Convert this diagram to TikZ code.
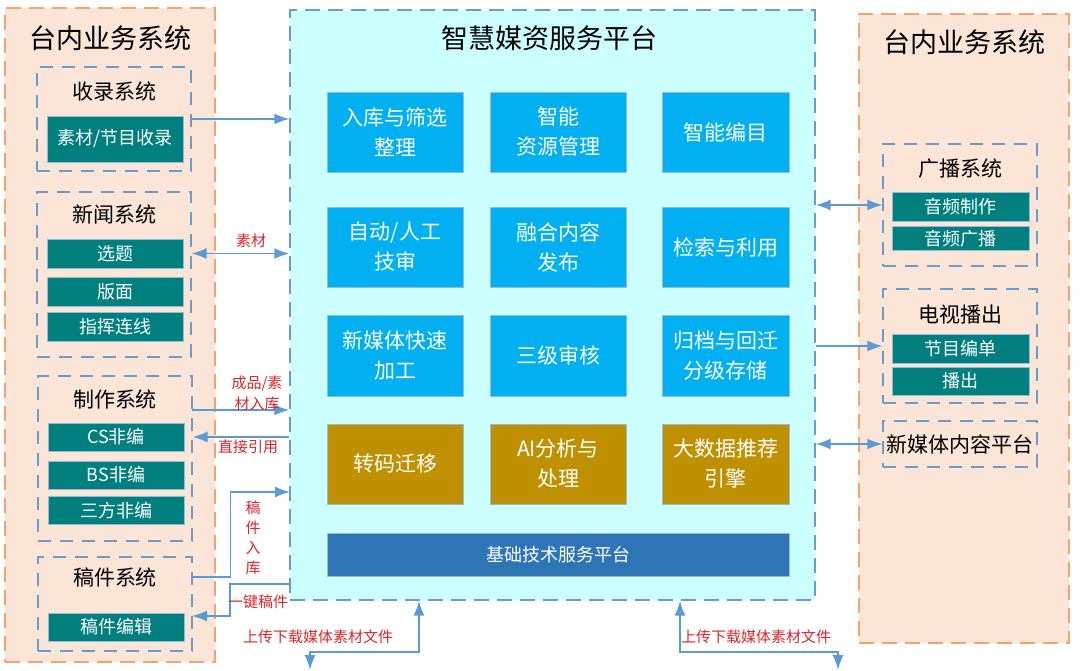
\documentclass[tikz,border=0pt]{standalone}
\usepackage{fontspec}
\setmainfont{Noto Sans CJK SC}
\usetikzlibrary{arrows,arrows.meta,shadows}

\definecolor{peach}{HTML}{FBE5D6}
\definecolor{peachline}{HTML}{F2A46E}
\definecolor{platfill}{HTML}{CCFFFF}
\definecolor{dashblue}{HTML}{6A9BCD}
\definecolor{tealbox}{HTML}{007F7F}
\definecolor{skybox}{HTML}{00B0F0}
\definecolor{goldbox}{HTML}{BF9000}
\definecolor{basebox}{HTML}{2E75B6}
\definecolor{linkblue}{HTML}{5B9BD5}
\definecolor{labelred}{HTML}{D9262B}

\tikzset{
  outer/.style={draw=peachline, fill=peach, dash pattern=on 15pt off 8pt, line width=1.4pt},
  plat/.style={draw=dashblue, fill=platfill, dash pattern=on 15pt off 8pt, line width=1.4pt},
  group/.style={draw=dashblue, dash pattern=on 13pt off 9pt, line width=1.3pt},
  bigttl/.style={font=\fontsize{27}{30}\selectfont},
  subttl/.style={font=\fontsize{21}{24}\selectfont},
  item/.style={fill=tealbox, draw=dashblue!70, line width=0.6pt, text=white,
    minimum width=136pt, minimum height=29pt, inner sep=0pt,
    font=\fontsize{18}{20}\selectfont},
  func/.style={draw=dashblue!70, line width=0.6pt, text=white, align=center,
    minimum width=136pt, minimum height=80pt, inner sep=0pt,
    font=\fontsize{21}{30}\selectfont},
  link/.style={draw=linkblue, line width=1.6pt},
  tip/.style={-{Latex[length=15pt,width=11pt]}},
  tips/.style={{Latex[length=15pt,width=11pt]}-{Latex[length=15pt,width=11pt]}},
  tag/.style={text=labelred, align=center, font=\fontsize{15}{21}\selectfont}
}

\begin{document}
\begin{tikzpicture}[x=1pt, y=-1pt]
  \useasboundingbox (0,0) rectangle (1080,671);

  % left side
  \node[outer, minimum width=210pt, minimum height=654pt] (leftsys) at (110,335) {};
  \node[bigttl] (leftttl) at (111,38) {台内业务系统};

  \node[group, minimum width=154pt, minimum height=104pt] (luru) at (114,119) {};
  \node[subttl] (luruttl) at (114,92) {收录系统};
  \node[item, minimum height=46pt] (shoulu) at (115,139) {素材/节目收录};

  \node[group, minimum width=154pt, minimum height=165pt] (news) at (114,274.5) {};
  \node[subttl] (newsttl) at (114,214) {新闻系统};
  \node[item] (xuanti) at (115,253.5) {选题};
  \node[item] (banmian) at (115,291.5) {版面};
  \node[item] (lianxian) at (115,326.5) {指挥连线};

  \node[group, minimum width=154pt, minimum height=165pt] (zhizuo) at (115,458.5) {};
  \node[subttl] (zhizuottl) at (115,399) {制作系统};
  \node[item, minimum height=28pt] (csne) at (116,437) {CS非编};
  \node[item, minimum height=28pt] (bsne) at (116,475) {BS非编};
  \node[item, minimum height=28pt] (sfne) at (116,510.5) {三方非编};

  \node[group, minimum width=154pt, minimum height=94pt] (gaojian) at (115,604) {};
  \node[subttl] (gaojianttl) at (115,577) {稿件系统};
  \node[item, minimum height=28pt] (gjedit) at (116,627) {稿件编辑};

  % platform
  \node[plat, minimum width=525pt, minimum height=590pt] (plat) at (552.5,305) {};
  \node[bigttl] (platttl) at (549,38) {智慧媒资服务平台};

  \node[func, fill=skybox] (ruku) at (395,132) {入库与筛选\\整理};
  \node[func, fill=skybox] (ziyuan) at (558,132) {智能\\资源管理};
  \node[func, fill=skybox, minimum width=127pt] (bianmu) at (725.5,132) {智能编目};

  \node[func, fill=skybox] (jishen) at (395,247) {自动/人工\\技审};
  \node[func, fill=skybox] (ronghe) at (558,247) {融合内容\\发布};
  \node[func, fill=skybox, minimum width=127pt] (jiansuo) at (725.5,247) {检索与利用};

  \node[func, fill=skybox, minimum height=81pt] (kuaisu) at (395,355.5) {新媒体快速\\加工};
  \node[func, fill=skybox, minimum height=81pt] (shenhe) at (558,355.5) {三级审核};
  \node[func, fill=skybox, minimum width=127pt, minimum height=81pt] (guidang) at (725.5,355.5) {归档与回迁\\分级存储};

  \node[func, fill=goldbox] (zhuanma) at (395,464) {转码迁移};
  \node[func, fill=goldbox] (aifx) at (558,464) {AI分析与\\处理};
  \node[func, fill=goldbox, minimum width=127pt] (tuijian) at (725.5,464) {大数据推荐\\引擎};

  \node[func, fill=basebox, minimum width=462pt, minimum height=43pt,
    font=\fontsize{18}{20}\selectfont] (jichu) at (558,554.5) {基础技术服务平台};

  % right side
  \node[outer, minimum width=210pt, minimum height=629pt] (rightsys) at (964,328.5) {};
  \node[bigttl] (rightttl) at (964,42) {台内业务系统};

  \node[group, minimum width=154pt, minimum height=122pt] (bcast) at (960,205) {};
  \node[subttl] (bcastttl) at (960,169) {广播系统};
  \node[item, minimum width=137pt] (yinzz) at (960.5,206.5) {音频制作};
  \node[item, minimum width=137pt, minimum height=24pt] (yingb) at (960.5,238.5) {音频广播};

  \node[group, minimum width=154pt, minimum height=114pt] (tv) at (960,346) {};
  \node[subttl] (tvttl) at (960,315) {电视播出};
  \node[item, minimum width=137pt] (biandan) at (960.5,348.5) {节目编单};
  \node[item, minimum width=137pt, minimum height=28pt] (bochu) at (960.5,381) {播出};

  \node[group, minimum width=154pt, minimum height=46pt, subttl] (xmt) at (960,444) {新媒体内容平台};

  % connectors
  \coordinate (cpin) at (192,410);
  \coordinate (gjin) at (290,492);
  \coordinate (gjout) at (290,584);
  \coordinate (gjback) at (192,616);
  \coordinate (p1) at (419,652);
  \coordinate (p2) at (680,652);
  \coordinate (dl1) at (310,670);
  \coordinate (dl2) at (838,670);

  \draw[link, tip] (luru.east) -- (luru.east -| plat.west);
  \draw[link, tips] (xuanti -| news.east) -- (xuanti -| plat.west);
  \draw[link, tip] (cpin) -- (cpin -| plat.west);
  \draw[link, tip] (csne -| plat.west) -- (csne -| zhizuo.east);
  \draw[link, tip] (gaojianttl -| gaojian.east) -- ++(38,0) |- (gjin);
  \draw[link, tip] (gjout) -- ++(-60,0) |- (gjback);
  \draw[link, tips] (p1 |- plat.south) -- (p1) -| (dl1);
  \draw[link, tips] (p2 |- plat.south) -- (p2) -| (dl2);

  \draw[link, tips] (plat.east |- bcast) -- (bcast.west);
  \draw[link, tip] (plat.east |- tv) -- (tv.west);
  \draw[link, tips] (plat.east |- xmt) -- (xmt.west);

  % labels
  \node[tag] (sucai) at (251,241) {素材};
  \node[tag] (chengpin) at (257,393) {成品/素\\材入库};
  \node[tag] (yinyong) at (248,447) {直接引用};
  \node[tag, font=\fontsize{15}{20}\selectfont] (gjlabel) at (253,538) {稿\\件\\入\\库};
  \node[tag] (yijian) at (258,602) {一键稿件};
  \node[tag] (upload1) at (318,637) {上传下载媒体素材文件};
  \node[tag] (upload2) at (756,637) {上传下载媒体素材文件};
\end{tikzpicture}
\end{document}
